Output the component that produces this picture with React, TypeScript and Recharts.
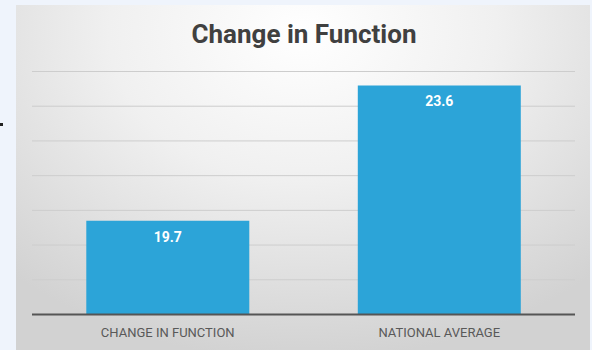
import { BarChart, Bar, XAxis, YAxis, CartesianGrid, LabelList } from "recharts";

const categories = ["CHANGE IN FUNCTION", "NATIONAL AVERAGE"];
const values = [19.7, 23.6];
const yTicks = [17, 18, 19, 20, 21, 22, 23, 24];

const data = categories.map((name, i) => ({ name, value: values[i] }));

export default function App() {
  return (
    <div
      style={{
        position: "absolute",
        left: 0,
        top: 0,
        width: 592,
        height: 350,
        background: "#EFF4FC",
        overflow: "hidden",
        fontFamily: "Roboto, sans-serif",
      }}
    >
      {/* stray mark at the left edge of the screenshot */}
      <div
        style={{
          position: "absolute",
          left: 0,
          top: 123,
          width: 3,
          height: 3,
          background: "#222",
        }}
      />
      <div
        style={{
          position: "absolute",
          left: 16,
          top: 5,
          width: 574,
          height: 345,
          background:
            "radial-gradient(ellipse 75% 95% at 50% 8%, #ffffff 0%, #f0f0f0 45%, #d2d2d2 100%)",
        }}
      >
        <div
          style={{
            position: "absolute",
            left: 0,
            top: 16,
            width: 574,
            textAlign: "center",
            fontSize: 26,
            lineHeight: "26px",
            fontWeight: 700,
            color: "#404040",
            paddingLeft: 1,
          }}
        >
          Change in Function
        </div>
        <BarChart
          width={574}
          height={345}
          data={data}
          margin={{ top: 66.5, right: 15, bottom: 0, left: 16 }}
          barCategoryGap="20%"
          style={{ position: "absolute", left: 0, top: 0 }}
        >
          <CartesianGrid vertical={false} stroke="#cdcdcd" strokeWidth={1} />
          <YAxis hide domain={[17, 24]} ticks={yTicks} type="number" />
          <XAxis
            dataKey="name"
            height={35.5}
            tickLine={false}
            tickMargin={7}
            axisLine={{ stroke: "#555555", strokeWidth: 2 }}
            tick={{ fill: "#595959", fontSize: 13, fontFamily: "Roboto" }}
          />
          <Bar dataKey="value" fill="#2CA4D8" isAnimationActive={false}>
            <LabelList
              dataKey="value"
              position="insideTop"
              offset={11}
              fill="#ffffff"
              fontSize={14}
              fontWeight={700}
              fontFamily="Roboto"
            />
          </Bar>
        </BarChart>
      </div>
    </div>
  );
}
